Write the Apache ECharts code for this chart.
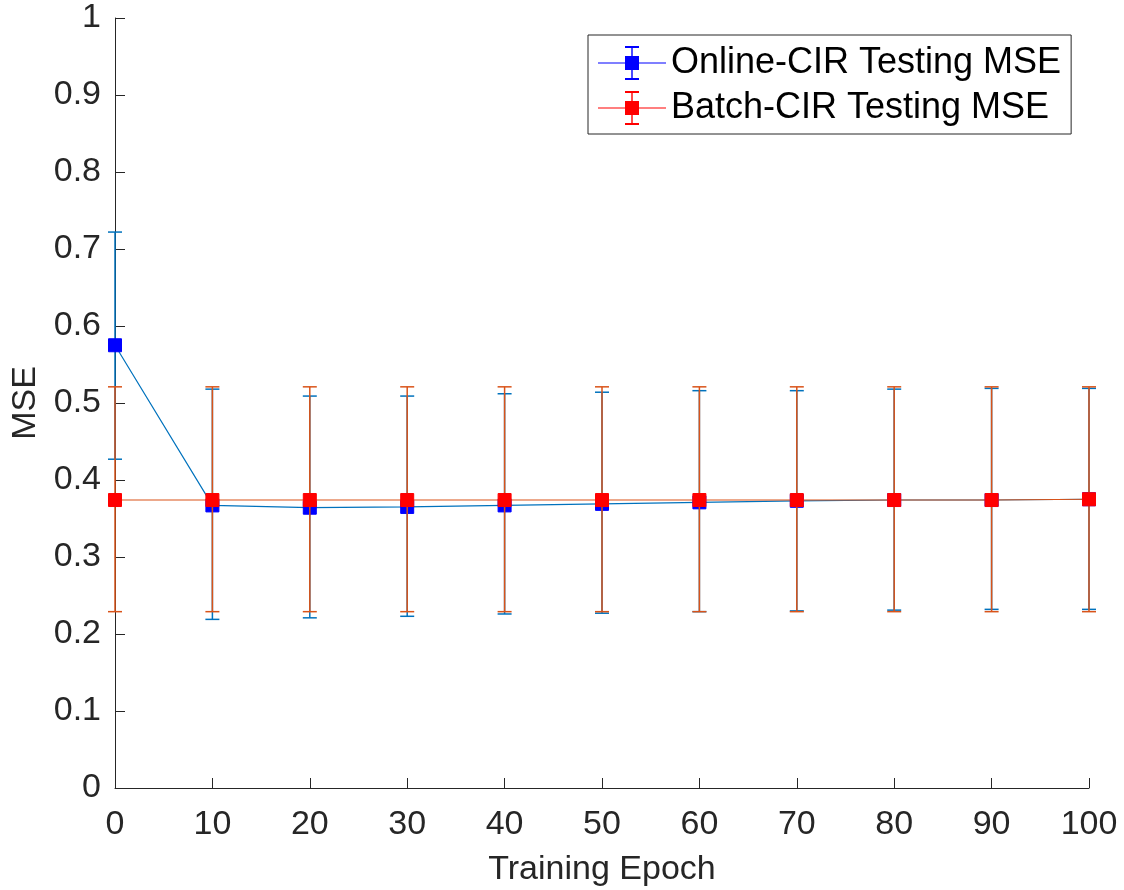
<!DOCTYPE html>
<html>
<head>
<meta charset="utf-8">
<script src="https://cdn.jsdelivr.net/npm/echarts@6/dist/echarts.min.js"></script>
<style>html,body{margin:0;padding:0;background:#fff;}#chart{width:1124px;height:890px;}</style>
</head>
<body>
<div id="chart"></div>
<script>
const epochs = [0, 10, 20, 30, 40, 50, 60, 70, 80, 90, 100];
const onlineMean  = [0.575, 0.367, 0.364, 0.365, 0.367, 0.369, 0.371, 0.373, 0.374, 0.374, 0.375];
const onlineUpper = [0.722, 0.518, 0.509, 0.509, 0.512, 0.514, 0.516, 0.516, 0.518, 0.519, 0.519];
const onlineLower = [0.427, 0.219, 0.221, 0.223, 0.226, 0.227, 0.229, 0.230, 0.231, 0.232, 0.232];
const batchMean  = [0.374, 0.374, 0.374, 0.374, 0.374, 0.374, 0.374, 0.374, 0.374, 0.374, 0.375];
const batchUpper = [0.521, 0.521, 0.521, 0.521, 0.521, 0.521, 0.521, 0.521, 0.521, 0.521, 0.521];
const batchLower = [0.229, 0.229, 0.229, 0.229, 0.229, 0.229, 0.229, 0.229, 0.229, 0.229, 0.229];
const seriesNames = ['Online-CIR Testing MSE', 'Batch-CIR Testing MSE'];

const FONT = '"Liberation Sans", Arial, Helvetica, sans-serif';
const AX = '#262626';
const legendIcon = 'path://M0,16.5H68V17.5H0Z M33.3,0H34.7V34H33.3Z M27,0H41V2H27Z M27,32H41V34H27Z M27,10H41V24H27Z';

function errData(lo, hi) {
  return epochs.map((e, i) => [e, lo[i], hi[i]]);
}
function errRender(color) {
  return function (params, api) {
    const x = api.value(0);
    const lo = api.coord([x, api.value(1)]);
    const hi = api.coord([x, api.value(2)]);
    const hw = 7;
    const st = { stroke: color, lineWidth: 1.5 };
    return {
      type: 'group',
      children: [
        { type: 'line', shape: { x1: lo[0], y1: lo[1], x2: hi[0], y2: hi[1] }, style: st },
        { type: 'line', shape: { x1: lo[0] - hw, y1: lo[1], x2: lo[0] + hw, y2: lo[1] }, style: st },
        { type: 'line', shape: { x1: hi[0] - hw, y1: hi[1], x2: hi[0] + hw, y2: hi[1] }, style: st }
      ]
    };
  };
}

const chart = echarts.init(document.getElementById('chart'), null, { renderer: 'canvas' });
chart.setOption({
  animation: false,
  backgroundColor: '#ffffff',
  textStyle: { fontFamily: FONT },
  grid: { left: 115, right: 35, top: 18, bottom: 102, containLabel: false, outerBoundsMode: 'none' },
  legend: {
    data: seriesNames.map((n, i) => ({ name: n, icon: legendIcon, itemStyle: { color: i === 0 ? '#0000ff' : '#ff0000' } })),
    orient: 'vertical',
    left: 588,
    top: 35,
    backgroundColor: '#ffffff',
    borderColor: AX,
    borderWidth: 1,
    borderRadius: 0,
    padding: [10, 10, 8, 10],
    itemWidth: 68,
    itemHeight: 34,
    itemGap: 9,
    symbolKeepAspect: false,
    textStyle: { fontSize: 36, color: '#000000', fontFamily: FONT }
  },
  xAxis: {
    type: 'value',
    min: 0, max: 100, interval: 10,
    name: 'Training Epoch',
    nameLocation: 'middle',
    nameGap: 65,
    nameTextStyle: { fontSize: 34, color: AX, fontFamily: FONT },
    axisLine: { lineStyle: { color: AX, width: 1 } },
    axisTick: { inside: true, length: 10, lineStyle: { color: AX } },
    axisLabel: { fontSize: 34, color: AX, margin: 20, fontFamily: FONT },
    splitLine: { show: false }
  },
  yAxis: {
    type: 'value',
    min: 0, max: 1, interval: 0.1,
    name: 'MSE',
    nameLocation: 'middle',
    nameGap: 71,
    nameRotate: 90,
    nameTextStyle: { fontSize: 34, color: AX, fontFamily: FONT },
    axisLine: { show: true, lineStyle: { color: AX, width: 1 } },
    axisTick: { show: true, inside: true, length: 10, lineStyle: { color: AX } },
    axisLabel: { fontSize: 34, color: AX, margin: 14, fontFamily: FONT,
      formatter: v => (Math.round(v * 10) / 10).toString() },
    splitLine: { show: false }
  },
  series: [
    {
      name: 'online-err', type: 'custom', data: errData(onlineLower, onlineUpper),
      renderItem: errRender('#0072BD'), encode: { x: 0, y: [1, 2] }, z: 2, silent: true
    },
    {
      name: seriesNames[0], type: 'line',
      data: epochs.map((e, i) => [e, onlineMean[i]]),
      symbol: 'rect', symbolSize: 13, showAllSymbol: true,
      lineStyle: { color: '#0072BD', width: 1.2 },
      itemStyle: { color: '#0000ff', borderColor: '#0000ff' },
      z: 3
    },
    {
      name: 'batch-err', type: 'custom', data: errData(batchLower, batchUpper),
      renderItem: errRender('#D95319'), encode: { x: 0, y: [1, 2] }, z: 4, silent: true
    },
    {
      name: seriesNames[1], type: 'line',
      data: epochs.map((e, i) => [e, batchMean[i]]),
      symbol: 'rect', symbolSize: 13, showAllSymbol: true,
      lineStyle: { color: '#D95319', width: 1.2 },
      itemStyle: { color: '#ff0000', borderColor: '#ff0000' },
      z: 5
    }
  ]
});
</script>
</body>
</html>
